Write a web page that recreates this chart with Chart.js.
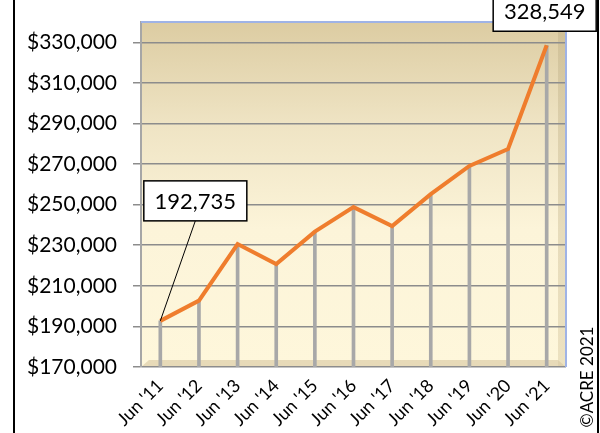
<!DOCTYPE html>
<html>
<head>
<meta charset="utf-8">
<script src="https://cdn.jsdelivr.net/npm/chart.js@4.4.0/dist/chart.umd.min.js"></script>
<style>
  html, body { margin: 0; padding: 0; background: #fff; }
  #wrap { width: 600px; height: 433px; }
</style>
</head>
<body>
<div id="wrap"><canvas id="priceChart" width="600" height="433"></canvas></div>
<script>
// median price, June of each year
const years = ["Jun '11", "Jun '12", "Jun '13", "Jun '14", "Jun '15", "Jun '16",
               "Jun '17", "Jun '18", "Jun '19", "Jun '20", "Jun '21"];
const prices = [192735, 202700, 230600, 220700, 236700, 248800,
                239400, 255200, 269100, 277400, 328549];
const yTickValues = [170000, 190000, 210000, 230000, 250000, 270000, 290000, 310000, 330000];
const yMin = 170000;
const yMax = 340000;
const calloutIndexes = [0, 10];
const copyright = '©ACRE 2021';

const FONT = 'Lato, "Open Sans", sans-serif';

// plot-area fill with the 3D-ish walls of the original
const wallPlugin = {
    id: 'walls',
    beforeDraw(chart) {
        const { ctx, chartArea: a } = chart;
        ctx.save();
        ctx.fillStyle = '#fff';
        ctx.fillRect(0, 0, chart.width, chart.height);

        const g = ctx.createLinearGradient(0, a.top, 0, a.bottom);
        g.addColorStop(0, '#dccca2');
        g.addColorStop(0.3, '#efe4c4');
        g.addColorStop(0.6, '#fcf4d9');
        g.addColorStop(1, '#fef7db');
        ctx.fillStyle = g;
        ctx.fillRect(a.left, a.top, a.right - a.left, a.bottom - a.top);

        // right side wall
        const rw = ctx.createLinearGradient(0, a.top, 0, a.bottom);
        rw.addColorStop(0, 'rgba(190,175,135,0.45)');
        rw.addColorStop(1, 'rgba(215,200,160,0.45)');
        ctx.fillStyle = rw;
        ctx.fillRect(a.right - 8, a.top, 8, a.bottom - a.top);

        // floor
        ctx.fillStyle = 'rgba(215,198,160,0.6)';
        ctx.beginPath();
        ctx.moveTo(a.left, a.bottom);
        ctx.lineTo(a.left + 8, a.bottom - 7);
        ctx.lineTo(a.right - 8, a.bottom - 7);
        ctx.lineTo(a.right, a.bottom);
        ctx.closePath();
        ctx.fill();

        // page frame lines
        ctx.strokeStyle = '#000';
        ctx.lineWidth = 2;
        ctx.beginPath();
        ctx.moveTo(14, 0); ctx.lineTo(14, chart.height);
        ctx.moveTo(598, 0); ctx.lineTo(598, chart.height);
        ctx.stroke();
        ctx.restore();
    },
    beforeDatasetsDraw(chart) {
        const { ctx, chartArea: a } = chart;
        ctx.save();
        ctx.strokeStyle = '#9fb3e6';
        ctx.lineWidth = 2;
        ctx.beginPath();
        ctx.moveTo(a.left, a.top);
        ctx.lineTo(a.right, a.top);
        ctx.lineTo(a.right, a.bottom);
        ctx.stroke();
        ctx.restore();
    }
};

// value boxes on first and last point, plus the copyright line
const calloutPlugin = {
    id: 'callouts',
    afterDraw(chart) {
        const { ctx } = chart;
        const pts = chart.getDatasetMeta(0).data;
        ctx.save();
        ctx.font = '22px ' + FONT;
        ctx.textAlign = 'center';
        ctx.textBaseline = 'middle';

        calloutIndexes.forEach((i, n) => {
            const p = pts[i];
            const w = 103, h = 40;
            let cx, cy;
            if (n === 0) { cx = p.x + 35; cy = p.y - 120; }
            else { cx = p.x - 2; cy = p.y - 34; }

            if (n === 0) {
                ctx.strokeStyle = '#000';
                ctx.lineWidth = 1;
                ctx.beginPath();
                ctx.moveTo(cx, cy + h / 2);
                ctx.lineTo(p.x, p.y);
                ctx.stroke();
            }
            ctx.fillStyle = '#fff';
            ctx.fillRect(cx - w / 2, cy - h / 2, w, h);
            ctx.strokeStyle = '#000';
            ctx.lineWidth = 1.5;
            ctx.strokeRect(cx - w / 2, cy - h / 2, w, h);
            ctx.fillStyle = '#000';
            ctx.fillText(prices[i].toLocaleString('en-US'), cx, cy + 1);
        });

        ctx.translate(588, 377);
        ctx.rotate(-Math.PI / 2);
        ctx.font = '17px ' + FONT;
        ctx.fillText(copyright, 0, 0);
        ctx.restore();
    }
};

new Chart(document.getElementById('priceChart'), {
    type: 'line',
    data: {
        labels: years,
        datasets: [{
            type: 'line',
            data: prices,
            borderColor: '#ef7d2d',
            borderWidth: 4,
            pointRadius: 0,
            tension: 0,
            order: 0
        }, {
            type: 'bar',
            data: prices.map(v => [yMin, v]),
            backgroundColor: '#a8a8a8',
            barThickness: 3,
            order: 1
        }]
    },
    options: {
        responsive: false,
        animation: false,
        layout: { padding: { top: 22, right: 34, left: 0, bottom: 0 } },
        plugins: {
            legend: { display: false },
            tooltip: { enabled: false }
        },
        scales: {
            x: {
                offset: true,
                grid: { display: false, drawTicks: false },
                border: { display: false },
                ticks: {
                    color: '#000',
                    font: { family: FONT, size: 18 },
                    maxRotation: 45,
                    minRotation: 45,
                    padding: 8
                },
                afterFit(scale) { scale.height = 66; }
            },
            y: {
                min: yMin,
                max: yMax,
                afterBuildTicks(scale) {
                    scale.ticks = yTickValues.map(v => ({ value: v }));
                },
                grid: { color: '#8c8c8c', lineWidth: 1.5, tickLength: 8 },
                border: { display: true, color: '#a6a6a6', width: 2 },
                ticks: {
                    color: '#000',
                    padding: 16,
                    font: { family: FONT, size: 21 },
                    callback: v => '$' + Number(v).toLocaleString('en-US')
                },
                afterFit(scale) {
                    scale.width = 141;
                    scale.paddingTop = 0;
                    scale.paddingBottom = 0;
                }
            }
        }
    },
    plugins: [wallPlugin, calloutPlugin]
});
</script>
</body>
</html>
